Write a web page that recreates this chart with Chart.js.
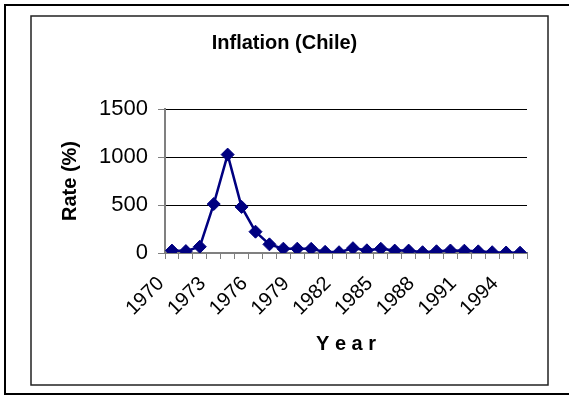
<!DOCTYPE html>
<html>
<head>
<meta charset="utf-8">
<script src="https://cdn.jsdelivr.net/npm/chart.js@4"></script>
<style>
  html, body { margin: 0; padding: 0; background: #fff; overflow: hidden; }
  #wrap { width: 569px; height: 396px; position: relative; }
</style>
</head>
<body>
<div id="wrap"><canvas id="c" width="569" height="396"></canvas></div>
<script>
// Annual consumer-price inflation in Chile, percent
const years = ['1970','1971','1972','1973','1974','1975','1976','1977','1978','1979',
               '1980','1981','1982','1983','1984','1985','1986','1987','1988','1989',
               '1990','1991','1992','1993','1994','1995'];
const rates = [25, 20, 65, 510, 1025, 480, 222, 90, 45, 45,
               43, 12, 8, 50, 28, 44, 25, 25, 8, 18,
               26, 24, 17, 8, 5, 3];
const yTicks = [0, 500, 1000, 1500];
const labelEvery = 3;

const FONT = "'Liberation Sans', Arial, sans-serif";
const NAVY = '#000080';
const AXIS_GREY = '#808080';

// Outer page frame and inner chart frame, drawn behind everything
const framePlugin = {
  id: 'frames',
  beforeDraw(chart) {
    const ctx = chart.ctx;
    ctx.save();
    ctx.fillStyle = '#fff';
    ctx.fillRect(0, 0, chart.width, chart.height);
    ctx.lineWidth = 2;
    ctx.strokeStyle = '#000';
    ctx.beginPath();
    ctx.moveTo(chart.width + 2, 5);
    ctx.lineTo(5, 5);
    ctx.lineTo(5, 394);
    ctx.lineTo(chart.width + 2, 394);
    ctx.stroke();
    ctx.lineWidth = 1.5;
    ctx.strokeStyle = '#222';
    ctx.strokeRect(31, 16, 517, 369);
    ctx.restore();
  }
};

new Chart(document.getElementById('c'), {
  type: 'line',
  data: {
    labels: years,
    datasets: [{
      data: rates,
      borderColor: NAVY,
      backgroundColor: NAVY,
      borderWidth: 2.5,
      tension: 0,
      pointStyle: 'rectRot',
      pointRadius: 6.5,
      pointBorderWidth: 1,
      pointBackgroundColor: NAVY,
      pointBorderColor: NAVY
    }]
  },
  options: {
    responsive: false,
    animation: false,
    devicePixelRatio: 1,
    layout: { padding: 0 },
    plugins: {
      legend: { display: false },
      tooltip: { enabled: false },
      title: {
        display: true,
        text: 'Inflation (Chile)',
        color: '#000',
        font: { family: FONT, size: 20, weight: 'bold' },
        padding: { top: 31, bottom: 54 }
      }
    },
    scales: {
      x: {
        type: 'category',
        offset: true,
        grid: {
          offset: true,
          drawOnChartArea: false,
          color: AXIS_GREY,
          tickColor: AXIS_GREY,
          tickLength: 6
        },
        border: { color: AXIS_GREY, width: 2 },
        ticks: {
          autoSkip: false,
          maxRotation: 45,
          minRotation: 45,
          padding: 13,
          labelOffset: -11,
          color: '#000',
          font: { family: FONT, size: 20 },
          callback: (v, i) => (i % labelEvery === 0 ? years[i] : '')
        },
        title: {
          display: true,
          text: 'Y e a r',
          color: '#000',
          font: { family: FONT, size: 20, weight: 'bold' },
          padding: { top: 0, bottom: 40 }
        },
        afterFit: s => { s.height = 143; }
      },
      y: {
        min: 0,
        max: 1500,
        afterBuildTicks: s => { s.ticks = yTicks.map(v => ({ value: v })); },
        grid: {
          color: c => (c.tick && c.tick.value === 0 ? 'rgba(0,0,0,0)' : '#000'),
          lineWidth: 1,
          tickColor: AXIS_GREY,
          tickLength: 7
        },
        border: { color: AXIS_GREY, width: 2 },
        ticks: {
          padding: 10,
          color: '#000',
          font: { family: FONT, size: 22 },
          callback: v => String(v)
        },
        title: {
          display: true,
          text: 'Rate (%)',
          color: '#000',
          font: { family: FONT, size: 20, weight: 'bold' },
          padding: { top: 58, bottom: 0 }
        },
        afterFit: s => { s.width = 165; }
      },
      // empty right-hand margin so the title stays centred on the page
      yRight: {
        position: 'right',
        display: true,
        grid: { display: false },
        border: { display: false },
        ticks: { display: false },
        afterFit: s => { s.width = 42; }
      }
    }
  },
  plugins: [framePlugin]
});
</script>
</body>
</html>
